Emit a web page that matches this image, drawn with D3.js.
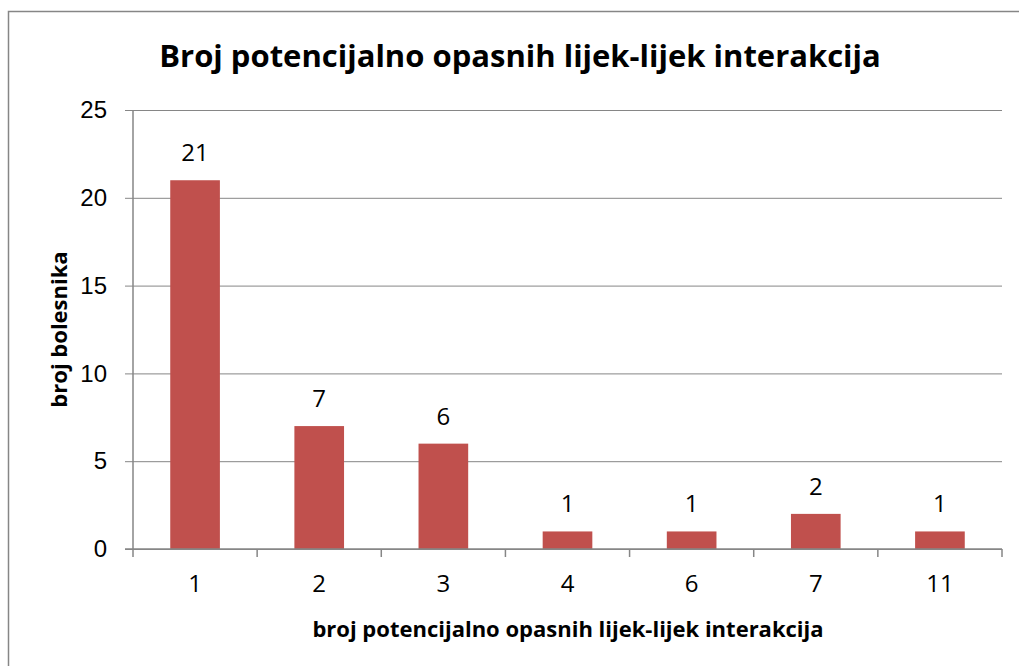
<!DOCTYPE html>
<html>
<head>
<meta charset="utf-8">
<script src="https://cdnjs.cloudflare.com/ajax/libs/d3/7.8.5/d3.min.js"></script>
<style>
  body { margin: 0; background: #fff; }
  svg { display: block; font-family: "Open Sans", sans-serif; }
  .axis path, .axis line { stroke: #868686; }
  .grid line { stroke: #868686; }
  .grid path { display: none; }
</style>
</head>
<body>
<div id="bar-chart"></div>
<script>
// Data
var categories = ['1', '2', '3', '4', '6', '7', '11'];
var values = [21, 7, 6, 1, 1, 2, 1];
var yTicks = [0, 5, 10, 15, 20, 25];

var titleText = 'Broj potencijalno opasnih lijek-lijek interakcija';
var xTitleText = 'broj potencijalno opasnih lijek-lijek interakcija';
var yTitleText = 'broj bolesnika';

var width = 1019, height = 666;
var margins = { top: 110, right: 17, bottom: 117, left: 133 };
var chartWidth = width - margins.left - margins.right;
var chartHeight = height - margins.top - margins.bottom;

var svg = d3.select('#bar-chart')
  .append('svg')
  .attr('width', width)
  .attr('height', height);

// outer chart border (runs off the right and bottom edges)
svg.append('rect')
  .attr('x', 8.5)
  .attr('y', 11.5)
  .attr('width', 1020)
  .attr('height', 670)
  .attr('fill', 'none')
  .attr('stroke', '#868686')
  .attr('stroke-width', 1.5);

svg.append('text')
  .attr('x', 520)
  .attr('y', 67)
  .attr('text-anchor', 'middle')
  .style('font-size', '31px')
  .style('font-weight', 'bold')
  .text(titleText);

var chartElement = svg.append('g')
  .attr('transform', `translate(${margins.left},${margins.top})`);

var xScale = d3.scaleBand()
  .domain(categories)
  .range([0, chartWidth])
  .paddingInner(0.6)
  .paddingOuter(0.3);

var yScale = d3.scaleLinear()
  .domain([0, 25])
  .range([chartHeight, 0]);

// grid
chartElement.append('g')
  .attr('class', 'y grid')
  .call(d3.axisLeft(yScale).tickValues(yTicks).tickSize(-chartWidth).tickFormat(''));

// bars
chartElement.append('g')
  .selectAll('rect')
  .data(values)
  .enter()
  .append('rect')
  .attr('x', (d, i) => xScale(categories[i]))
  .attr('y', d => yScale(d))
  .attr('width', xScale.bandwidth())
  .attr('height', d => chartHeight - yScale(d))
  .attr('fill', '#C0504D');

// value labels
chartElement.append('g')
  .selectAll('text')
  .data(values)
  .enter()
  .append('text')
  .attr('x', (d, i) => xScale(categories[i]) + xScale.bandwidth() / 2)
  .attr('y', d => yScale(d) - 19)
  .attr('text-anchor', 'middle')
  .style('font-size', '24px')
  .text(d => d);

// y axis
var yAxis = chartElement.append('g')
  .attr('class', 'y axis')
  .call(d3.axisLeft(yScale).tickValues(yTicks).tickSize(8).tickPadding(18));
yAxis.selectAll('text').style('font-size', '24px').style('fill', '#000');
yAxis.select('.domain').attr('d', `M0,0V${chartHeight}`).attr('stroke-width', 1.5);

// x axis: ticks at category boundaries
var xAxisG = chartElement.append('g')
  .attr('class', 'x axis')
  .attr('transform', `translate(0,${chartHeight})`);

xAxisG.append('line')
  .attr('x1', -8).attr('x2', chartWidth)
  .attr('stroke', '#868686').attr('stroke-width', 1.5);

var step = xScale.step();
var boundaries = d3.range(categories.length + 1).map(i => i * step);
xAxisG.selectAll('.tick-b')
  .data(boundaries)
  .enter()
  .append('line')
  .attr('x1', d => d).attr('x2', d => d)
  .attr('y1', 0).attr('y2', 8)
  .attr('stroke', '#868686').attr('stroke-width', 1.5);

xAxisG.selectAll('.lbl')
  .data(categories)
  .enter()
  .append('text')
  .attr('x', d => xScale(d) + xScale.bandwidth() / 2)
  .attr('y', 43)
  .attr('text-anchor', 'middle')
  .style('font-size', '24px')
  .text(d => d);

// axis titles
svg.append('text')
  .attr('x', 568)
  .attr('y', 637)
  .attr('text-anchor', 'middle')
  .style('font-size', '22px')
  .style('font-weight', 'bold')
  .text(xTitleText);

svg.append('text')
  .attr('transform', `translate(67,${margins.top + chartHeight / 2}) rotate(-90)`)
  .attr('text-anchor', 'middle')
  .style('font-size', '22px')
  .style('font-weight', 'bold')
  .text(yTitleText);
</script>
</body>
</html>
